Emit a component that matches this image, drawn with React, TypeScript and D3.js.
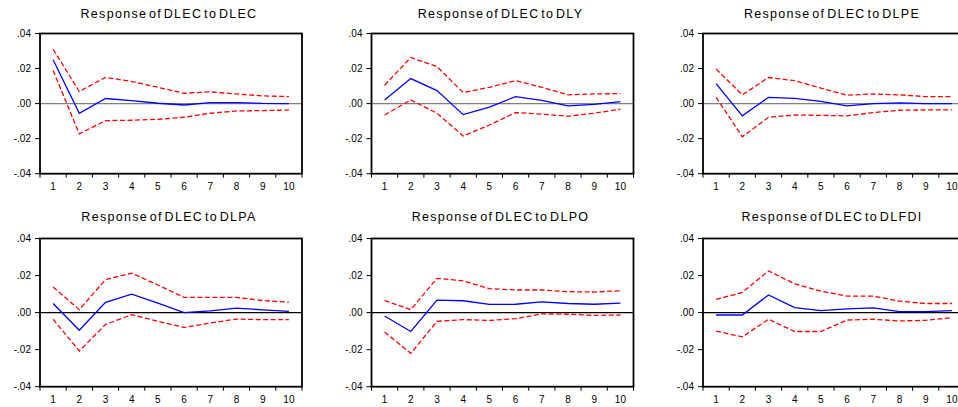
import React from "react";
import * as d3 from "d3";

const periods = [1, 2, 3, 4, 5, 6, 7, 8, 9, 10];
const yTicks = [0.04, 0.02, 0.0, -0.02, -0.04];
const titles = [
  "Response of DLEC to DLEC",
  "Response of DLEC to DLY",
  "Response of DLEC to DLPE",
  "Response of DLEC to DLPA",
  "Response of DLEC to DLPO",
  "Response of DLEC to DLFDI",
];

const respDLEC = [0.025, -0.0055, 0.0029, 0.0017, 0.0002, -0.0008, 0.0006, 0.0006, 0.0001, 0.0];
const upperDLEC = [0.031, 0.0069, 0.015, 0.0126, 0.0093, 0.0059, 0.0067, 0.0055, 0.0044, 0.004];
const lowerDLEC = [0.0189, -0.0173, -0.0097, -0.0095, -0.009, -0.0078, -0.0055, -0.0042, -0.004, -0.0036];

const respDLY = [0.0021, 0.0143, 0.0074, -0.0063, -0.002, 0.004, 0.0018, -0.0013, -0.0004, 0.0011];
const upperDLY = [0.0105, 0.0263, 0.0211, 0.0063, 0.0093, 0.0131, 0.0093, 0.005, 0.0055, 0.0057];
const lowerDLY = [-0.0065, 0.0021, -0.0055, -0.0185, -0.0122, -0.0051, -0.006, -0.0072, -0.0055, -0.0032];

const respDLPE = [0.0114, -0.007, 0.0036, 0.003, 0.0013, -0.0013, 0.0, 0.0004, 0.0, 0.0];
const upperDLPE = [0.0198, 0.005, 0.0149, 0.0131, 0.0088, 0.0048, 0.0055, 0.005, 0.004, 0.004];
const lowerDLPE = [0.0036, -0.0189, -0.0078, -0.0065, -0.0067, -0.007, -0.0051, -0.0038, -0.0036, -0.0036];

const respDLPA = [0.0049, -0.0095, 0.0055, 0.01, 0.0051, 0.0, 0.0009, 0.0024, 0.0015, 0.0007];
const upperDLPA = [0.0138, 0.0016, 0.0178, 0.0213, 0.0149, 0.0082, 0.0082, 0.0082, 0.0065, 0.0056];
const lowerDLPA = [-0.0036, -0.0207, -0.0064, -0.0011, -0.0047, -0.008, -0.0056, -0.0035, -0.0038, -0.0038];

const respDLPO = [-0.0018, -0.0102, 0.0067, 0.0064, 0.0044, 0.0045, 0.0058, 0.0049, 0.0045, 0.0051];
const upperDLPO = [0.0065, 0.0016, 0.0185, 0.0171, 0.0129, 0.0122, 0.0122, 0.0113, 0.0111, 0.0118];
const lowerDLPO = [-0.0105, -0.022, -0.0047, -0.0038, -0.0042, -0.0033, -0.0007, -0.0009, -0.0015, -0.0013];

const respDLFDI = [-0.0013, -0.0013, 0.0095, 0.0027, 0.0011, 0.002, 0.0025, 0.0005, 0.0005, 0.0011];
const upperDLFDI = [0.0071, 0.0109, 0.0225, 0.0155, 0.0116, 0.0089, 0.0089, 0.0062, 0.0049, 0.0049];
const lowerDLFDI = [-0.01, -0.0131, -0.0036, -0.0102, -0.0102, -0.004, -0.0036, -0.0045, -0.0042, -0.0027];

const responses = [respDLEC, respDLY, respDLPE, respDLPA, respDLPO, respDLFDI];
const uppers = [upperDLEC, upperDLY, upperDLPE, upperDLPA, upperDLPO, upperDLFDI];
const lowers = [lowerDLEC, lowerDLY, lowerDLPE, lowerDLPA, lowerDLPO, lowerDLFDI];

const W = 958;
const H = 407;
const colLeft = [40, 371.5, 703];
const frameW = 262;
const rowTop = [33.5, 238.5];
const rowH = [140.2, 148.2];
const titleY = [17.5, 221];
const zeroColor = ["#808080", "#000000"];

const fmt = (v: number) => {
  if (Math.abs(v) < 1e-9) return ".00";
  const s = d3.format(".2f")(v);
  return s.replace("0.", ".").replace("−", "-");
};

function Panel({ idx }: { idx: number }) {
  const col = idx % 3;
  const row = Math.floor(idx / 3);
  const x0 = colLeft[col];
  const y0 = rowTop[row];
  const h = rowH[row];
  const xBand = d3.scaleBand<number>().domain(periods).range([x0, x0 + frameW]).padding(0);
  const y = d3.scaleLinear().domain([-0.04, 0.04]).range([y0 + h, y0]);
  const cx = (p: number) => (xBand(p) as number) + xBand.bandwidth() / 2;
  const line = d3
    .line<number>()
    .x((_, i) => cx(periods[i]))
    .y((v) => y(v));
  const bounds = [...periods.map((p) => xBand(p) as number), x0 + frameW];
  const font = "Arial, 'Liberation Sans', sans-serif";
  return (
    <g>
      <text
        x={x0 + frameW / 2 - 2}
        y={titleY[row]}
        textAnchor="middle"
        fontFamily={font}
        fontSize={12.5}
        letterSpacing={1.3}
        wordSpacing={-3}
        fill="#000"
      >
        {titles[idx]}
      </text>
      {/* zero line */}
      <line x1={x0} x2={x0 + frameW} y1={y(0)} y2={y(0)} stroke={zeroColor[row]} strokeWidth={1.2} />
      {/* series */}
      <path d={line(uppers[idx]) || ""} fill="none" stroke="#ff0000" strokeWidth={1.3} strokeDasharray="5,2.5" />
      <path d={line(lowers[idx]) || ""} fill="none" stroke="#ff0000" strokeWidth={1.3} strokeDasharray="5,2.5" />
      <path d={line(responses[idx]) || ""} fill="none" stroke="#0000ff" strokeWidth={1.3} />
      {/* frame */}
      <rect x={x0} y={y0} width={frameW} height={h} fill="none" stroke="#000" strokeWidth={1.8} />
      {/* y ticks */}
      {yTicks.map((t) => (
        <g key={t}>
          <line x1={x0 - 5} x2={x0} y1={y(t)} y2={y(t)} stroke="#000" strokeWidth={1} />
          <text
            x={x0 - 9}
            y={y(t)}
            dy="0.35em"
            textAnchor="end"
            fontFamily={font}
            fontSize={10}
            fill="#000"
          >
            {fmt(t)}
          </text>
        </g>
      ))}
      {/* x ticks */}
      {bounds.map((b, i) => (
        <line key={i} x1={b} x2={b} y1={y0 + h} y2={y0 + h + 4} stroke="#000" strokeWidth={1} />
      ))}
      {periods.map((p) => (
        <text
          key={p}
          x={cx(p)}
          y={y0 + h + 16}
          textAnchor="middle"
          fontFamily={font}
          fontSize={10}
          fill="#000"
        >
          {p}
        </text>
      ))}
    </g>
  );
}

export default function App() {
  return (
    <svg width={W} height={H} style={{ display: "block", position: "absolute", left: 0, top: 0, background: "#fff" }}>
      <rect x={0} y={0} width={W} height={H} fill="#fff" />
      {titles.map((_, i) => (
        <Panel key={i} idx={i} />
      ))}
    </svg>
  );
}
